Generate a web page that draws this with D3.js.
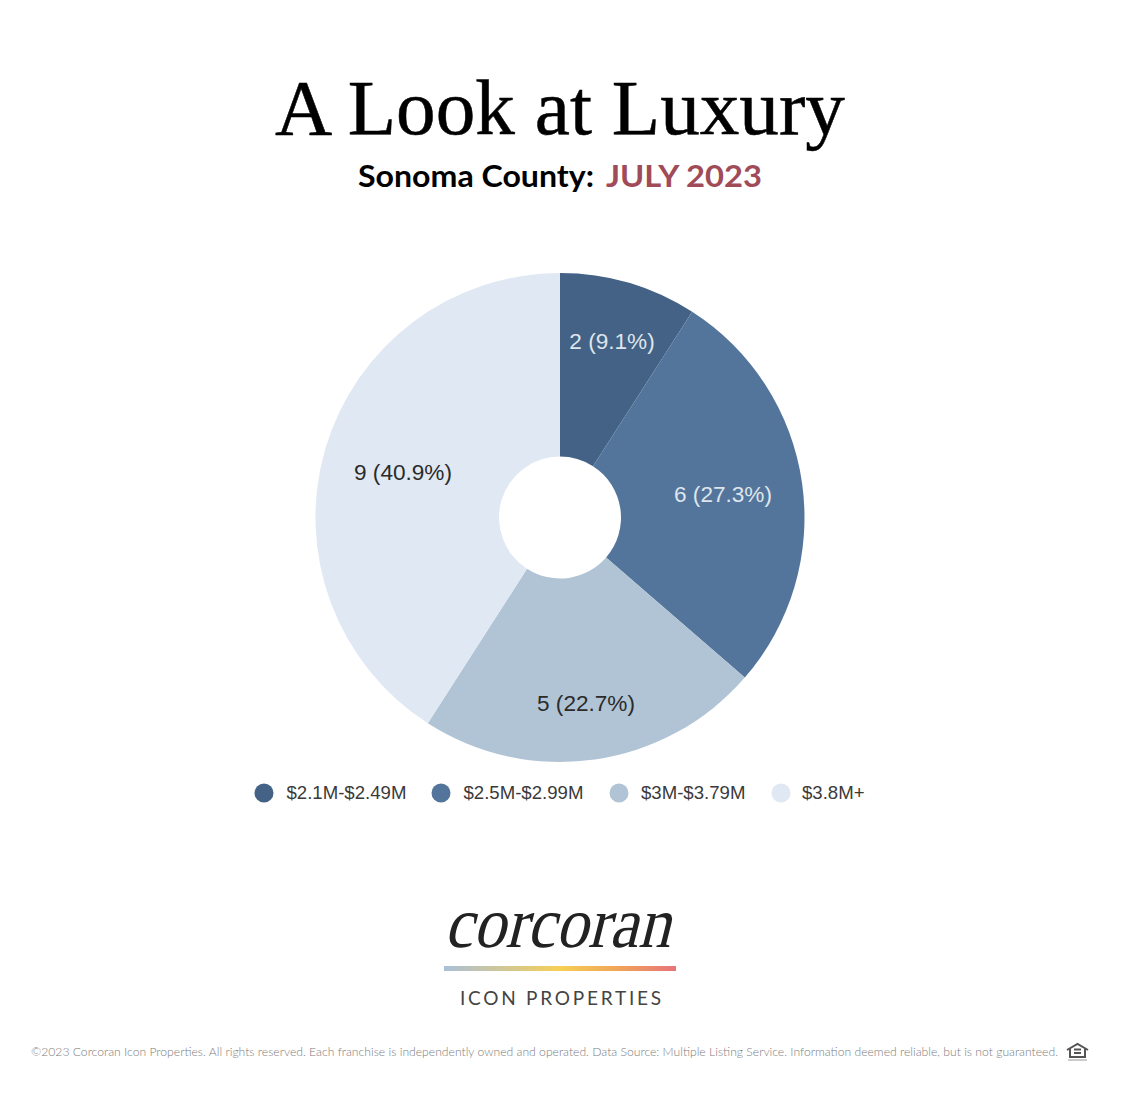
<!DOCTYPE html>
<html lang="en">
  <head>
    <meta charset="utf-8">
    <title>A Look at Luxury</title>
    <script src="https://d3js.org/d3.v7.min.js" charset="utf-8"></script>
    <style>
      html, body { margin: 0; padding: 0; background: #fff; }
      svg { display: block; }
    </style>
  </head>
  <body>
    <div id="root"></div>
    <script>
      const categories = ['$2.1M-$2.49M', '$2.5M-$2.99M', '$3M-$3.79M', '$3.8M+'];
      const counts = [2, 6, 5, 9];
      const shares = ['9.1%', '27.3%', '22.7%', '40.9%'];
      const colors = ['#436285', '#54759b', '#b0c4d5', '#e0e8f3'];
      const labelColors = ['#dfe5ec', '#dfe5ec', '#2b2b2b', '#2b2b2b'];
      const legendX = [264, 441, 619, 781];
      const legendTextX = [286.5, 463.5, 641, 802];
      const labelPos = [[612, 342], [723, 495], [586, 704], [403, 473]];

      const width = 1140, height = 1104;
      const cx = 560, cy = 517.5;
      const sans = '"Liberation Sans", Arial, sans-serif';

      const svg = d3.select('#root').append('svg')
        .attr('width', width).attr('height', height);

      function text(x, y, str, size, family, fill, extra) {
        const t = svg.append('text')
          .attr('x', x).attr('y', y)
          .attr('font-size', size)
          .attr('font-family', family)
          .attr('fill', fill)
          .text(str);
        if (extra) extra(t);
        return t;
      }

      // header
      text(560, 134, 'A Look at Luxury', 78, '"Liberation Serif", serif', '#000', t => t
        .attr('text-anchor', 'middle').attr('textLength', 570).attr('lengthAdjust', 'spacingAndGlyphs')
        .attr('stroke', '#000').attr('stroke-width', 0.5));
      text(358, 187, 'Sonoma County:', 30, 'Lato, sans-serif', '#000', t => t
        .attr('font-weight', 700).attr('textLength', 236).attr('lengthAdjust', 'spacingAndGlyphs'));
      text(606, 187, 'JULY 2023', 30, 'Lato, sans-serif', '#a04b58', t => t
        .attr('font-weight', 700).attr('textLength', 156).attr('lengthAdjust', 'spacingAndGlyphs'));

      // donut
      const pie = d3.pie().sort(null).value(d => d);
      const arc = d3.arc().innerRadius(61).outerRadius(244.5);
      const chart = svg.append('g').attr('transform', `translate(${cx},${cy})`);
      chart.selectAll('path')
        .data(pie(counts))
        .join('path')
        .attr('d', arc)
        .attr('fill', (d, i) => colors[i]);

      svg.selectAll('.slice-label')
        .data(counts)
        .join('text')
        .attr('class', 'slice-label')
        .attr('x', (d, i) => labelPos[i][0])
        .attr('y', (d, i) => labelPos[i][1] + 7)
        .attr('text-anchor', 'middle')
        .attr('font-family', sans)
        .attr('font-size', 22.6)
        .attr('fill', (d, i) => labelColors[i])
        .text((d, i) => `${d} (${shares[i]})`);

      // legend
      svg.selectAll('.legend-dot')
        .data(categories)
        .join('circle')
        .attr('class', 'legend-dot')
        .attr('cx', (d, i) => legendX[i])
        .attr('cy', 793)
        .attr('r', 9.5)
        .attr('fill', (d, i) => colors[i]);
      svg.selectAll('.legend-label')
        .data(categories)
        .join('text')
        .attr('class', 'legend-label')
        .attr('x', (d, i) => legendTextX[i])
        .attr('y', 799)
        .attr('font-family', sans)
        .attr('font-size', 18.6)
        .attr('fill', '#3a3a3a')
        .text(d => d);

      // logo, roman serif sheared to get the thin/thick slanted look
      text(0, 0, 'corcoran', 72, '"Liberation Serif", serif', '#222', t => t
        .attr('transform', 'translate(444,947) skewX(-14)')
        .attr('textLength', 226).attr('lengthAdjust', 'spacingAndGlyphs'));
      const grad = svg.append('defs').append('linearGradient').attr('id', 'logo-bar');
      [['0%', '#aabfd8'], ['50%', '#f6cf55'], ['75%', '#f0a458'], ['100%', '#e8747a']].forEach(s => {
        grad.append('stop').attr('offset', s[0]).attr('stop-color', s[1]);
      });
      svg.append('rect').attr('x', 444).attr('y', 966).attr('width', 232).attr('height', 5)
        .attr('fill', 'url(#logo-bar)');
      text(460, 1005, 'ICON PROPERTIES', 19, 'Lato, sans-serif', '#444', t => t
        .attr('textLength', 201).attr('lengthAdjust', 'spacing'));

      // footer
      text(31, 1056, '©2023 Corcoran Icon Properties. All rights reserved. Each franchise is independently owned and operated. Data Source: Multiple Listing Service. Information deemed reliable, but is not guaranteed.', 11.5, 'Lato, sans-serif', '#7d7d7d', t => t
        .attr('font-weight', 300)
        .attr('textLength', 1027).attr('lengthAdjust', 'spacingAndGlyphs'));

      // equal housing icon
      const icon = svg.append('g').attr('fill', 'none').attr('stroke', '#555').attr('stroke-width', 2);
      icon.append('path').attr('d', 'M1067 1050 L1077.5 1044 L1088 1050 M1070 1049 V1057 H1085 V1049');
      icon.append('path').attr('d', 'M1074 1049.5 H1081 M1074 1053 H1081').attr('stroke-width', 1.8);
      svg.append('rect').attr('x', 1068).attr('y', 1059).attr('width', 19).attr('height', 2).attr('fill', '#ccc');
    </script>
  </body>
</html>
